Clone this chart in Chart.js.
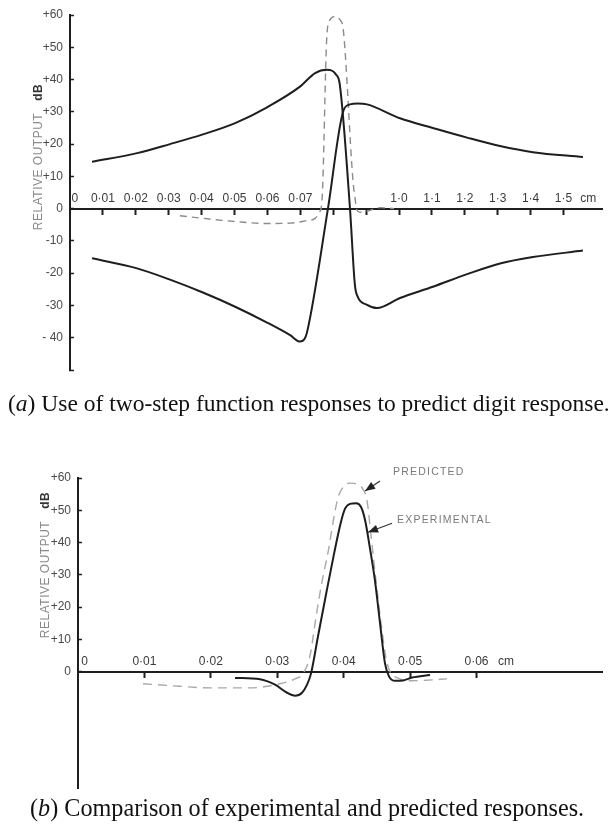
<!DOCTYPE html>
<html><head><meta charset="utf-8">
<script src="https://cdn.jsdelivr.net/npm/chart.js@4.4.0/dist/chart.umd.min.js"></script>
<style>
html,body{margin:0;padding:0;background:#fff;}
body{width:616px;height:824px;position:relative;overflow:hidden;font-family:'Liberation Sans',Arial,sans-serif;}
#wa{position:absolute;left:0;top:0;width:616px;height:385px;}
#wb{position:absolute;left:0;top:460px;width:616px;height:340px;}
.ytitle{position:absolute;transform:translate(-50%,-50%) rotate(-90deg);white-space:nowrap;font-size:12px;color:#8a8a8a;letter-spacing:0.5px;}
.ytitle b{color:#333;margin-left:12px;font-weight:bold;}
.cap{position:absolute;font-family:'Liberation Serif','Times New Roman',serif;line-height:24px;color:#111;white-space:nowrap;}
</style></head><body>
<div id="wa"><canvas id="ca" width="616" height="385"></canvas></div>
<div id="wb"><canvas id="cb" width="616" height="340"></canvas></div>
<div class="ytitle" style="left:38px;top:157px;">RELATIVE OUTPUT<b>dB</b></div>
<div class="ytitle" style="left:45px;top:565px;">RELATIVE OUTPUT<b>dB</b></div>
<div class="cap" id="capa" style="left:8px;top:391px;font-size:23.5px;">(<i>a</i>) Use of two-step function responses to predict digit response.</div>
<div class="cap" id="capb" style="left:30px;top:796px;font-size:24.2px;">(<i>b</i>) Comparison of experimental and predicted responses.</div>
<script>
// ---------- Chart (a) data ----------
const aXTickPos    = [0.15, 1, 2, 3, 4, 5, 6, 7, 8, 9, 10, 11, 12, 13, 14, 15, 15.75];
const aXTickLabels = ['0','0·01','0·02','0·03','0·04','0·05','0·06','0·07','','','1·0','1·1','1·2','1·3','1·4','1·5','cm'];
const aXTickMarks  = [0,1,1,1,1,1,1,1,1,1,1,1,1,1,1,1,0];
const aYTickVals   = [60,50,40,30,20,10,0,-10,-20,-30,-40,-50];
const aYTickLabels = ['+60','+50','+40','+30','+20','+10','0','-10','-20','-30','- 40',''];

const aPosStepX = [0.67,2.04,3.04,4.04,5.02,5.99,6.99,7.45,7.81,8.08,8.2,8.51,8.66,8.75,9.03,9.33,10.03,11.03,12.07,13.07,14.07,15.59];
const aPosStepY = [14.5,17.2,20,23,26.5,31.4,37.8,42,43,41.6,38.5,0,-23.7,-27.4,-29.8,-30.8,-27.7,-24.2,-20.3,-17,-15,-13];

const aNegStepX = [0.67,2.04,3.04,4.04,5.02,5.99,6.69,6.99,7.12,7.2,7.84,8.3,8.51,8.75,9.03,10.03,11.03,12.07,13.07,14.07,15.59];
const aNegStepY = [-15.4,-18.5,-22,-26,-30.4,-35.3,-39.2,-41.2,-40.5,-38.5,0,30,32.3,32.6,32.3,28,25,22,19.4,17.5,16];

const aDigitX = [3.34,4.04,5.02,5.99,6.69,7.14,7.45,7.58,7.66,7.81,7.9,8.05,8.22,8.3,8.6,8.66,8.72,8.81,9.03,9.42,9.85];
const aDigitY = [-2.2,-3,-4,-4.6,-4.5,-3.8,-3,-1.2,2.6,54,58.5,59.5,58.3,56,8.8,3.5,-0.4,-1.1,-0.8,0.3,0];

// ---------- Chart (b) data ----------
const bXTickPos    = [0.00098, 0.01, 0.02, 0.03, 0.04, 0.05, 0.06, 0.06446];
const bXTickLabels = ['0','0·01','0·02','0·03','0·04','0·05','0·06','cm'];
const bXTickMarks  = [0,1,1,1,1,1,1,0];
const bYTickVals   = [60,50,40,30,20,10,0];
const bYTickLabels = ['+60','+50','+40','+30','+20','+10','0'];

const bExpX = [0.02364,0.02741,0.02967,0.03148,0.03268,0.03373,0.03449,0.03509,0.03614,0.03735,0.03855,0.03961,0.04021,0.04096,0.04187,0.04262,0.04322,0.04398,0.04473,0.04548,0.04623,0.04684,0.04774,0.04895,0.0503,0.05301];
const bExpY = [-1.9,-2.3,-4,-6.5,-7.4,-6.5,-4,-0.5,11,24,36.5,46.5,50.5,52,52.2,51,47,38,28,15,2.5,-1.5,-2.8,-2.7,-1.8,-1.0];

const bPredX = [0.00979,0.01536,0.01988,0.0259,0.03042,0.03268,0.03389,0.03494,0.03584,0.03675,0.03765,0.03855,0.03916,0.04006,0.04096,0.04202,0.04292,0.04352,0.04413,0.04488,0.04563,0.04639,0.04699,0.04819,0.05,0.05271,0.05557];
const bPredY = [-3.7,-4.5,-5,-5,-3.7,-2.2,-0.5,5,17,28,37,48,54,57.5,58.4,58.2,56.5,53,42,28,15,4,0,-2,-2.8,-2.6,-2.2];

const bNoteText  = ['PREDICTED','EXPERIMENTAL'];
const bNoteX     = [0.04744, 0.04804];
const bNoteY     = [61.9, 46.9];
const bArrowFromX = [0.04548, 0.04729];
const bArrowFromY = [59.1, 46.0];
const bArrowToX   = [0.04322, 0.04367];
const bArrowToY   = [56.0, 43.2];

const zip = (xs, ys) => xs.map((x, i) => ({x, y: ys[i]}));
const INK = '#1e1e1e';
const FONT = {family: "'Liberation Sans', Arial, sans-serif", size: 12};

function makeXScale(min, max, pos, labels, marks) {
  return {
    type: 'linear', min, max,
    position: {y: 0},
    afterBuildTicks: s => { s.ticks = pos.map(v => ({value: v})); },
    afterFit: s => { s.height = 0; s.paddingLeft = 0; s.paddingRight = 0; },
    ticks: {
      autoSkip: false, maxRotation: 0, minRotation: 0,
      padding: -22, color: '#3a3a3a', font: FONT,
      callback: (v, i) => labels[i]
    },
    grid: {
      drawOnChartArea: false, drawTicks: true, tickLength: 5, tickWidth: 2,
      tickColor: c => marks[c.index] ? INK : 'rgba(0,0,0,0)'
    },
    border: {display: true, color: INK, width: 2}
  };
}
function makeYScale(min, max, vals, labels, width) {
  return {
    type: 'linear', min, max, position: 'left',
    afterBuildTicks: s => { s.ticks = vals.map(v => ({value: v})); },
    afterFit: s => { s.width = width; s.paddingTop = 0; s.paddingBottom = 0; },
    ticks: {
      padding: 11, color: '#4a4a4a', font: FONT,
      callback: v => { const k = vals.indexOf(v); return k >= 0 ? labels[k] : ''; }
    },
    grid: {drawOnChartArea: false, drawTicks: true, tickLength: -4, tickWidth: 1.5, tickColor: INK},
    border: {display: true, color: INK, width: 2}
  };
}
const common = {
  responsive: false, animation: false, devicePixelRatio: 1,
  plugins: {legend: {display: false}, tooltip: {enabled: false}, title: {display: false}},
  elements: {point: {radius: 0}, line: {cubicInterpolationMode: 'monotone', fill: false}}
};

new Chart(document.getElementById('ca'), {
  type: 'line',
  data: {datasets: [
    {label: 'Step response (+)', data: zip(aPosStepX, aPosStepY), borderColor: INK, borderWidth: 2},
    {label: 'Step response (−)', data: zip(aNegStepX, aNegStepY), borderColor: INK, borderWidth: 2},
    {label: 'Digit response', data: zip(aDigitX, aDigitY), borderColor: '#8c8c8c', borderWidth: 1.4, borderDash: [7, 5]}
  ]},
  options: Object.assign({}, common, {
    layout: {padding: {top: 15, right: 14, bottom: 15, left: 0}},
    scales: {
      x: makeXScale(0, 16.17, aXTickPos, aXTickLabels, aXTickMarks),
      y: makeYScale(-50, 60, aYTickVals, aYTickLabels, 70)
    }
  })
});

const notePlugin = {
  id: 'notes',
  afterDraw(chart) {
    const {ctx, scales: {x, y}} = chart;
    ctx.save();
    ctx.font = "10.5px 'Liberation Sans', Arial, sans-serif";
    if ('letterSpacing' in ctx) ctx.letterSpacing = '1.2px';
    ctx.fillStyle = '#7a7a7a';
    ctx.textBaseline = 'middle';
    ctx.textAlign = 'left';
    bNoteText.forEach((t, i) => ctx.fillText(t, x.getPixelForValue(bNoteX[i]), y.getPixelForValue(bNoteY[i])));
    ctx.strokeStyle = '#333'; ctx.fillStyle = '#222'; ctx.lineWidth = 1.2;
    bArrowFromX.forEach((fx, i) => {
      const x1 = x.getPixelForValue(fx), y1 = y.getPixelForValue(bArrowFromY[i]);
      const x2 = x.getPixelForValue(bArrowToX[i]), y2 = y.getPixelForValue(bArrowToY[i]);
      const a = Math.atan2(y2 - y1, x2 - x1), L = 10, W = 4;
      ctx.beginPath(); ctx.moveTo(x1, y1); ctx.lineTo(x2, y2); ctx.stroke();
      ctx.beginPath();
      ctx.moveTo(x2, y2);
      ctx.lineTo(x2 - L * Math.cos(a) + W * Math.sin(a), y2 - L * Math.sin(a) - W * Math.cos(a));
      ctx.lineTo(x2 - L * Math.cos(a) - W * Math.sin(a), y2 - L * Math.sin(a) + W * Math.cos(a));
      ctx.closePath(); ctx.fill();
    });
    ctx.restore();
  }
};

new Chart(document.getElementById('cb'), {
  type: 'line',
  data: {datasets: [
    {label: 'Experimental', data: zip(bExpX, bExpY), borderColor: INK, borderWidth: 2},
    {label: 'Predicted', data: zip(bPredX, bPredY), borderColor: '#a8a8a8', borderWidth: 1.4, borderDash: [9, 6]}
  ]},
  options: Object.assign({}, common, {
    layout: {padding: {top: 18, right: 14, bottom: 12, left: 0}},
    scales: {
      x: makeXScale(0, 0.0789, bXTickPos, bXTickLabels, bXTickMarks),
      y: makeYScale(-36, 60, bYTickVals, bYTickLabels, 78)
    }
  }),
  plugins: [notePlugin]
});
</script>
</body></html>
